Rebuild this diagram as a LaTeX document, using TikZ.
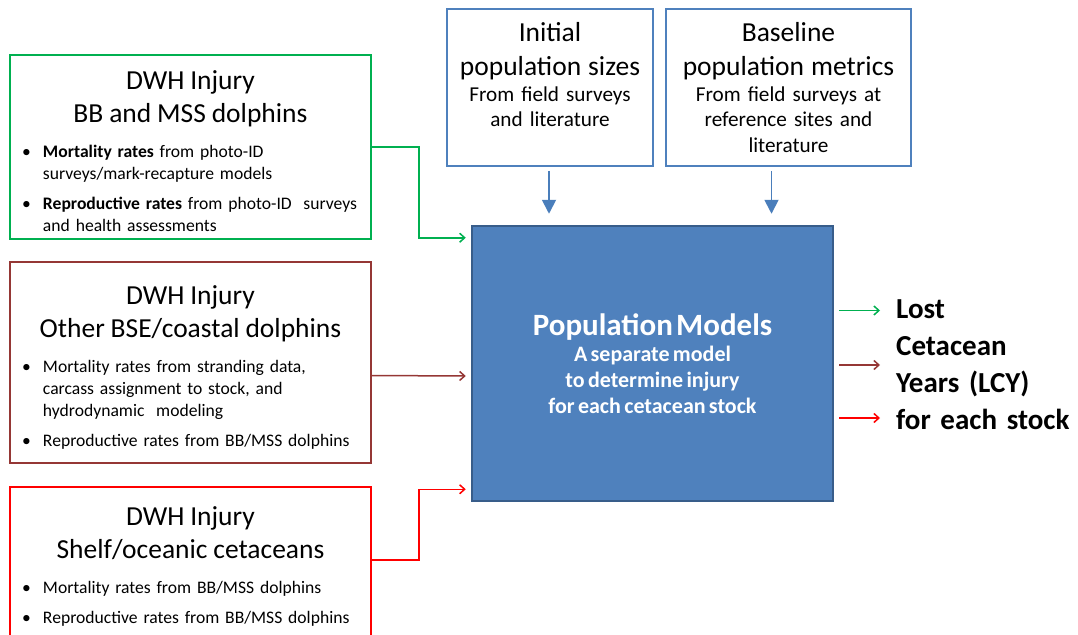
\documentclass[tikz,border=0pt]{standalone}
\usepackage{fontspec}
\setmainfont{Carlito}
\usepackage{xcolor}
\usepackage{tikz}
\usetikzlibrary{arrows.meta,positioning,calc}

\definecolor{injgreen}{HTML}{00B050}
\definecolor{injbrown}{HTML}{953735}
\definecolor{injred}{HTML}{FF0000}
\definecolor{modelblue}{HTML}{4F81BD}
\definecolor{modelline}{HTML}{385D8A}
\definecolor{feedblue}{HTML}{4A7EBB}

\newcommand{\injtitle}[1]{\par\vspace*{-5pt}{\centering\fontsize{27.5}{33}\selectfont #1\par}\vspace{13pt}}
\newcommand{\injitem}[1]{\par{\leftskip=27pt\noindent\llap{\textbullet\hspace{12pt}}#1\par}}

\begin{document}
\begin{tikzpicture}[
    x=1pt, y=-1pt,
    injbox/.style={draw,line width=1.7pt,fill=white,text width=349pt,
                   inner xsep=6pt,inner ysep=0pt,
                   font=\fontsize{17.6}{22}\selectfont},
    srcbox/.style={draw=modelblue,line width=1.7pt,fill=white,align=center,
                   inner sep=0pt,font=\fontsize{21.2}{25.5}\selectfont},
    modelbox/.style={draw=modelline,line width=2.5pt,fill=modelblue,
                     text=white,align=center,text width=340pt,inner sep=0pt,
                     minimum width=361pt,minimum height=275pt,font=\bfseries},
    feed/.style={-{Triangle[length=14pt,width=14pt]},feedblue,line width=1.8pt},
    inflow/.style={-{Straight Barb[length=5pt,width=9pt]},line width=1.5pt},
  ]
  \useasboundingbox (0,0) rectangle (1078,634);
  \clip (0,0) rectangle (1078,634);

  % injury boxes on the left
  \node[injbox,draw=injgreen,minimum height=184pt] (bbmss) at (190.5,147) {
    \injtitle{DWH Injury\\BB and MSS dolphins}
    \injitem{\textbf{Mortality rates} from photo-ID\\surveys/mark-recapture models}
    \vspace{8pt}
    \injitem{\textbf{Reproductive rates} from photo-ID\ \ surveys\\and health assessments}
  };
  \node[injbox,draw=injbrown,minimum height=201pt] (coastal) at (190.5,362.5) {
    \injtitle{DWH Injury\\Other BSE/coastal dolphins}
    \injitem{Mortality rates from stranding data,\\carcass assignment to stock, and\\hydrodynamic\ \ modeling}
    \vspace{8pt}
    \injitem{Reproductive rates from BB/MSS dolphins}
  };
  \node[injbox,draw=injred,minimum height=150pt] (oceanic) at (190.5,562) {
    \injtitle{DWH Injury\\Shelf/oceanic cetaceans}
    \injitem{Mortality rates from BB/MSS dolphins}
    \vspace{8pt}
    \injitem{Reproductive rates from BB/MSS dolphins}
  };

  % data sources on top
  \node[srcbox,text width=204pt,minimum width=206pt,minimum height=157pt]
    (initsize) at (550,87.5) {
    {\fontsize{27.5}{34}\selectfont Initial\\population sizes\par}
    From field surveys\\and literature\\~};
  \node[srcbox,text width=243pt,minimum width=245pt,minimum height=157pt]
    (baseline) at (788.5,87.5) {
    {\fontsize{27.5}{34}\selectfont Baseline\\population metrics\par}
    From field surveys at\\reference sites and\\literature};

  % the model
  \node[modelbox] (model) at (652.5,363.5) {
    {\fontsize{31}{33}\selectfont Population Models\par}
    {\fontsize{22}{26}\selectfont A separate model\\to determine injury\\for each cetacean stock\par}};

  % result
  \node[anchor=west,align=left,text width=185pt,inner sep=0pt,
        font=\fontsize{29}{37}\selectfont\bfseries]
    (lcy) at (896,365) {Lost\\Cetacean\\Years (LCY)\\for each stock};

  % --- source arrows ---
  \draw[feed] ($(initsize.south)+(-1,4)$) -- ($(initsize.south |- model.north)+(-1,-11)$);
  \draw[feed] ($(baseline.south)+(-17,4)$) -- ($(baseline.south |- model.north)+(-17,-11)$);

  % --- injury arrows ---
  \draw[inflow,injgreen] (bbmss.east) -| ($(model.north west)+(-52,13)$)
    -- ($(model.north west)+(-5,13)$);
  \draw[inflow,injbrown] ($(coastal.east)+(0,13)$) -- ($(model.west)+(-5,12.5)$);
  \draw[inflow,injred] ($(oceanic.east)+(0,-2)$) -| ($(model.south west)+(-52,-13)$)
    -- ($(model.south west)+(-5,-13)$);

  % --- output arrows ---
  \draw[inflow,injgreen] ($(model.east)+(5,-53)$) -- ($(model.east -| lcy.west)+(-16,-53)$);
  \draw[inflow,injbrown] ($(model.east)+(5,1.5)$) -- ($(model.east -| lcy.west)+(-16,1.5)$);
  \draw[inflow,injred] ($(model.east)+(5,54.5)$) -- ($(model.east -| lcy.west)+(-16,54.5)$);
\end{tikzpicture}
\end{document}
